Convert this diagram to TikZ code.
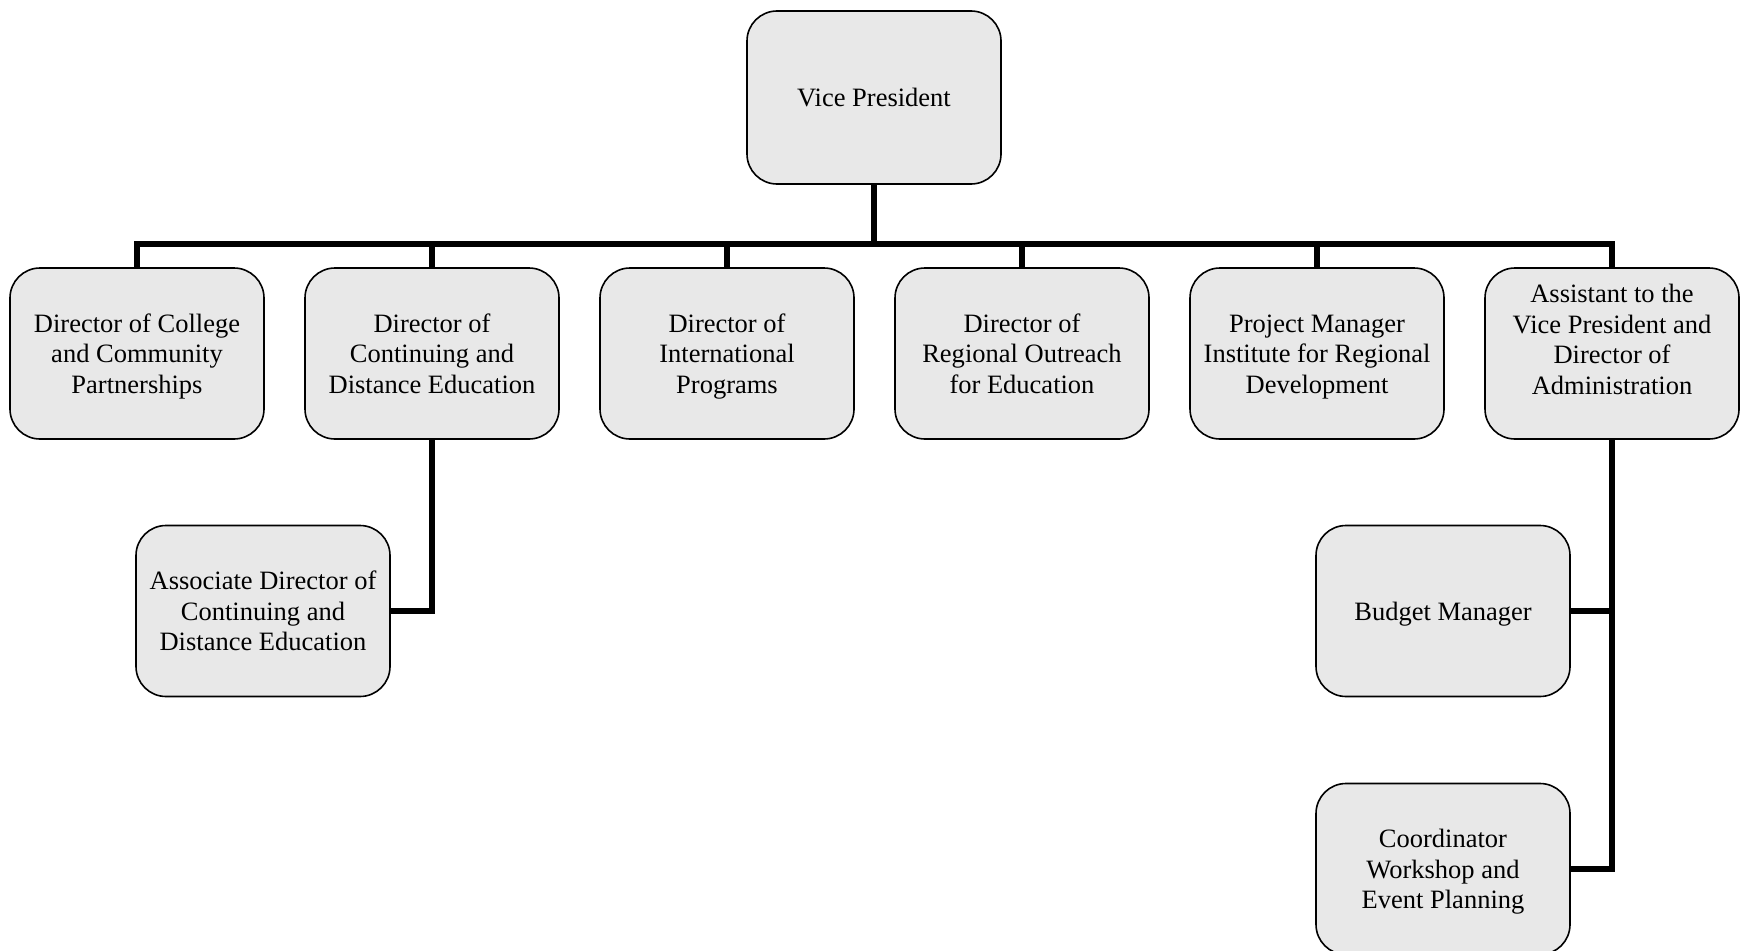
\documentclass[tikz,border=0pt]{standalone}
\usepackage{fontspec}
\setmainfont{Liberation Serif}
\definecolor{boxfill}{HTML}{E8E8E8}
\tikzset{
  orgbox/.style={draw=black, line width=1.6pt, fill=boxfill, rounded corners=30pt,
    minimum width=254pt, minimum height=171pt, inner sep=0pt, align=center,
    text depth=0pt, font=\fontsize{26.5pt}{30.5pt}\selectfont},
  link/.style={line width=6.5pt, black, line join=miter}
}
\begin{document}
\begin{tikzpicture}[x=1pt,y=-1pt]
\useasboundingbox (0,0) rectangle (1747,950);
\node[orgbox, minimum height=173pt] (vp) at (874,97.5) {Vice President};
\node[orgbox] (d1) at (137,353.5) {Director of College\\and Community\\Partnerships};
\node[orgbox] (d2) at (432,353.5) {Director of\\Continuing and\\Distance Education};
\node[orgbox] (d3) at (727,353.5) {Director of\\International\\Programs};
\node[orgbox] (d4) at (1022,353.5) {Director of\\Regional Outreach\\for Education};
\node[orgbox] (d5) at (1317,353.5) {\vphantom{l}Project Manager\\Institute for Regional\\Development};
\node[orgbox, text depth=28pt] (d6) at (1612,353.5) {Assistant to the\\Vice President and\\Director of\\Administration};
\node[orgbox] (assoc) at (263,611) {Associate Director of\\Continuing and\\Distance Education};
\node[orgbox] (budget) at (1443,611) {Budget Manager};
\node[orgbox] (coord) at (1443,869) {Coordinator\\Workshop and\\Event Planning};
\coordinate (bar) at (874,244);
\draw[link] (vp.south) -- (vp.south |- bar);
\draw[link] (d1.north) -- (d1.north |- bar) -- (d6.north |- bar) -- (d6.north);
\draw[link] (d2.north) -- (d2.north |- bar);
\draw[link] (d3.north) -- (d3.north |- bar);
\draw[link] (d4.north) -- (d4.north |- bar);
\draw[link] (d5.north) -- (d5.north |- bar);
\draw[link] (d2.south) |- (assoc.east);
\draw[link] (d6.south) |- (budget.east);
\draw[link] (d6.south) |- (coord.east);
\end{tikzpicture}
\end{document}
